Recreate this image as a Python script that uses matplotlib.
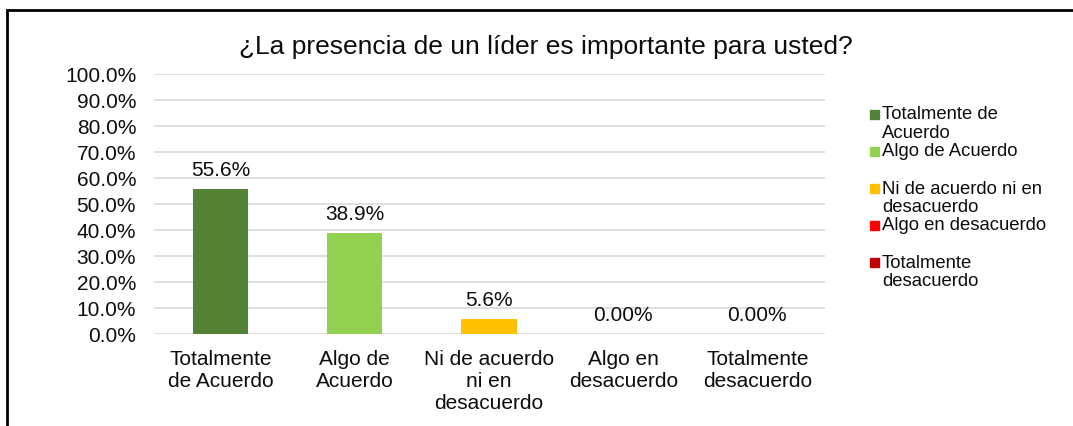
import matplotlib
matplotlib.use("Agg")
import matplotlib.pyplot as plt
from matplotlib.patches import Rectangle

plt.rcParams['font.family'] = ['Liberation Sans', 'DejaVu Sans']

title = "¿La presencia de un líder es importante para usted?"
categories = ["Totalmente\nde Acuerdo", "Algo de\nAcuerdo", "Ni de acuerdo\nni en\ndesacuerdo",
              "Algo en\ndesacuerdo", "Totalmente\ndesacuerdo"]
legend_labels = ["Totalmente de\nAcuerdo", "Algo de Acuerdo", "Ni de acuerdo ni en\ndesacuerdo",
                 "Algo en desacuerdo", "Totalmente\ndesacuerdo"]
values = [55.6, 38.9, 5.6, 0.0, 0.0]
value_labels = ["55.6%", "38.9%", "5.6%", "0.00%", "0.00%"]
colors = ["#548235", "#92D050", "#FFC000", "#FF0000", "#C00000"]
yticks = [0, 10, 20, 30, 40, 50, 60, 70, 80, 90, 100]

TXT = '#0d0d0d'
W, H = 1073, 427
fig = plt.figure(figsize=(W / 100, H / 100), dpi=100)

def fx(px):
    return px / W

def fy(py):
    return 1 - py / H

# outer frame
fig.patches.append(Rectangle((fx(7), fy(H + 20)), fx(W + 20), fy(10.5) - fy(H + 20),
                             transform=fig.transFigure, fill=False, edgecolor='black', lw=2))

ax = fig.add_axes([fx(153.5), fy(335), fx(824.5) - fx(153.5), fy(75) - fy(335)])
x = list(range(len(categories)))
ax.bar(x, values, width=0.41, color=colors, zorder=3)
for xi, v, lab in zip(x, values, value_labels):
    ax.annotate(lab, (xi, v), xytext=(0, 10), textcoords='offset pixels',
                ha='center', va='bottom', fontsize=15, color=TXT)
ax.set_xlim(-0.5, len(categories) - 0.5)
ax.set_ylim(0, 100)
ax.set_yticks(yticks)
ax.set_yticklabels([f"{t:.1f}%" for t in yticks], fontsize=15, color=TXT)
ax.set_xticks(x)
ax.set_xticklabels(categories, fontsize=15, color=TXT, linespacing=1.22)
ax.tick_params(axis='both', length=0)
ax.tick_params(axis='y', pad=12.5)
ax.tick_params(axis='x', pad=10.5)
ax.grid(axis='y', color='#D9D9D9', lw=1.2, zorder=0)
for s in ax.spines.values():
    s.set_visible(False)
ax.set_facecolor('none')

fig.text(fx(546), fy(47), title, ha='center', va='center', fontsize=19, color=TXT)

# legend
ys = [115, 152, 189, 226, 263]
for lab, c, y in zip(legend_labels, colors, ys):
    fig.patches.append(Rectangle((fx(869.5), fy(y + 4.5)), fx(9), fy(y - 4.5) - fy(y + 4.5),
                                 transform=fig.transFigure, color=c))
    fig.text(fx(882), fy(y - 8.5), lab, ha='left', va='top', fontsize=13.3,
             color=TXT, linespacing=1.15)

fig.savefig("out.png", dpi=100)
